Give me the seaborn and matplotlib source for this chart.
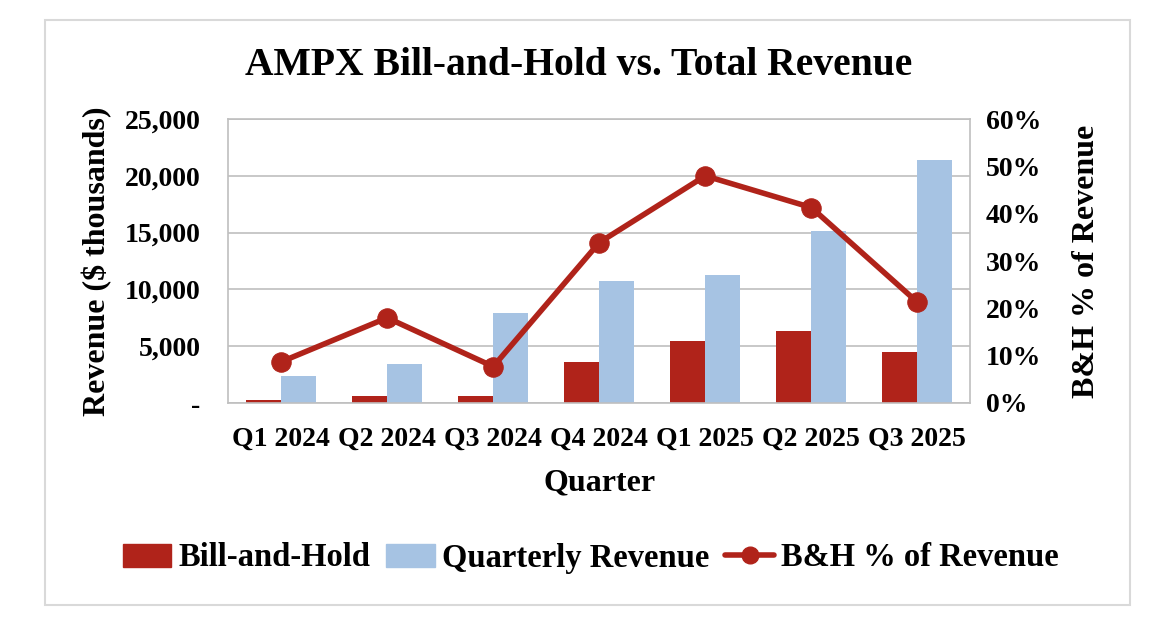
import numpy as np
import pandas as pd
import seaborn as sns
import matplotlib.pyplot as plt
from matplotlib.patches import Rectangle
from matplotlib.ticker import FuncFormatter, MultipleLocator

# data
quarters = ["Q1 2024", "Q2 2024", "Q3 2024", "Q4 2024", "Q1 2025", "Q2 2025", "Q3 2025"]
bill_and_hold = [250, 650, 650, 3600, 5500, 6300, 4500]
quarterly_revenue = [2400, 3400, 7900, 10700, 11300, 15100, 21400]
bh_pct = [8.7, 18.0, 7.7, 33.9, 48.0, 41.3, 21.3]

RED = "#B0231A"
BLUE = "#A6C3E3"
GRID = "#BFBFBF"

sns.set_theme(style="white")
plt.rcParams["font.family"] = ["Liberation Serif", "DejaVu Serif"]
plt.rcParams["font.weight"] = "bold"
plt.rcParams["text.color"] = "black"
plt.rcParams["axes.labelcolor"] = "black"
plt.rcParams["xtick.color"] = "black"
plt.rcParams["ytick.color"] = "black"

bars = pd.DataFrame({
    "Quarter": quarters * 2,
    "Series": ["Bill-and-Hold"] * 7 + ["Quarterly Revenue"] * 7,
    "Value": bill_and_hold + quarterly_revenue,
})

fig = plt.figure(figsize=(11.58, 6.2), dpi=100)
ax = fig.add_axes([0.197, 0.350, 0.641, 0.458])

sns.barplot(data=bars, x="Quarter", y="Value", hue="Series", order=quarters,
            palette=[RED, BLUE], width=0.66, ax=ax, legend=False, saturation=1,
            linewidth=0)

ax.set_xlim(-0.5, len(quarters) - 0.5)
ax.set_ylim(0, 25000)
ax.yaxis.set_major_locator(MultipleLocator(5000))
ax.yaxis.set_major_formatter(FuncFormatter(lambda v, p: "-" if v == 0 else f"{v:,.0f}"))
ax.grid(axis="y", color=GRID, linewidth=1.2)
ax.set_axisbelow(True)
for s in ax.spines.values():
    s.set_color(GRID)
    s.set_linewidth(1.2)
ax.tick_params(axis="y", labelsize=20, length=0, pad=20)
ax.tick_params(axis="x", labelsize=20, length=0, pad=17)
ax.set_xlabel("Quarter", fontsize=23, fontweight="bold", labelpad=12)
ax.set_ylabel("Revenue ($ thousands)", fontsize=23, fontweight="bold", labelpad=9)

ax2 = ax.twinx()
sns.lineplot(x=np.arange(len(quarters)), y=bh_pct, ax=ax2, color=RED, linewidth=4,
             marker="o", markersize=14, markeredgecolor=RED, legend=False)
ax2.set_ylim(0, 60)
ax2.set_xlim(-0.5, len(quarters) - 0.5)
ax2.yaxis.set_major_locator(MultipleLocator(10))
ax2.yaxis.set_major_formatter(FuncFormatter(lambda v, p: f"{v:.0f}%"))
ax2.tick_params(axis="y", labelsize=20, length=0, pad=11)
ax2.set_ylabel("B&H % of Revenue", fontsize=23, fontweight="bold", rotation=90, labelpad=22)
for s in ax2.spines.values():
    s.set_visible(False)

for lbl in ax.get_xticklabels() + ax.get_yticklabels() + ax2.get_yticklabels():
    lbl.set_fontweight("bold")

fig.suptitle("AMPX Bill-and-Hold vs. Total Revenue", fontsize=28.5, fontweight="bold",
             y=0.895, va="center")

handles = [
    Rectangle((0, 0), 1, 1, color=RED),
    Rectangle((0, 0), 1, 1, color=BLUE),
    plt.Line2D([0], [0], color=RED, linewidth=4, marker="o", markersize=12),
]
fig.legend(handles, ["Bill-and-Hold", "Quarterly Revenue", "B&H % of Revenue"],
           loc="center", bbox_to_anchor=(0.51, 0.10), ncol=3, frameon=False,
           prop={"size": 23.5, "weight": "bold"}, handlelength=1.5, handletextpad=0.2,
           columnspacing=0.5)

fig.patches.append(Rectangle((45 / 1158, 15 / 620), 1085 / 1158, 585 / 620,
                             transform=fig.transFigure, fill=False,
                             edgecolor="#D9D9D9", linewidth=1.5))

fig.savefig("out.png", dpi=100)
